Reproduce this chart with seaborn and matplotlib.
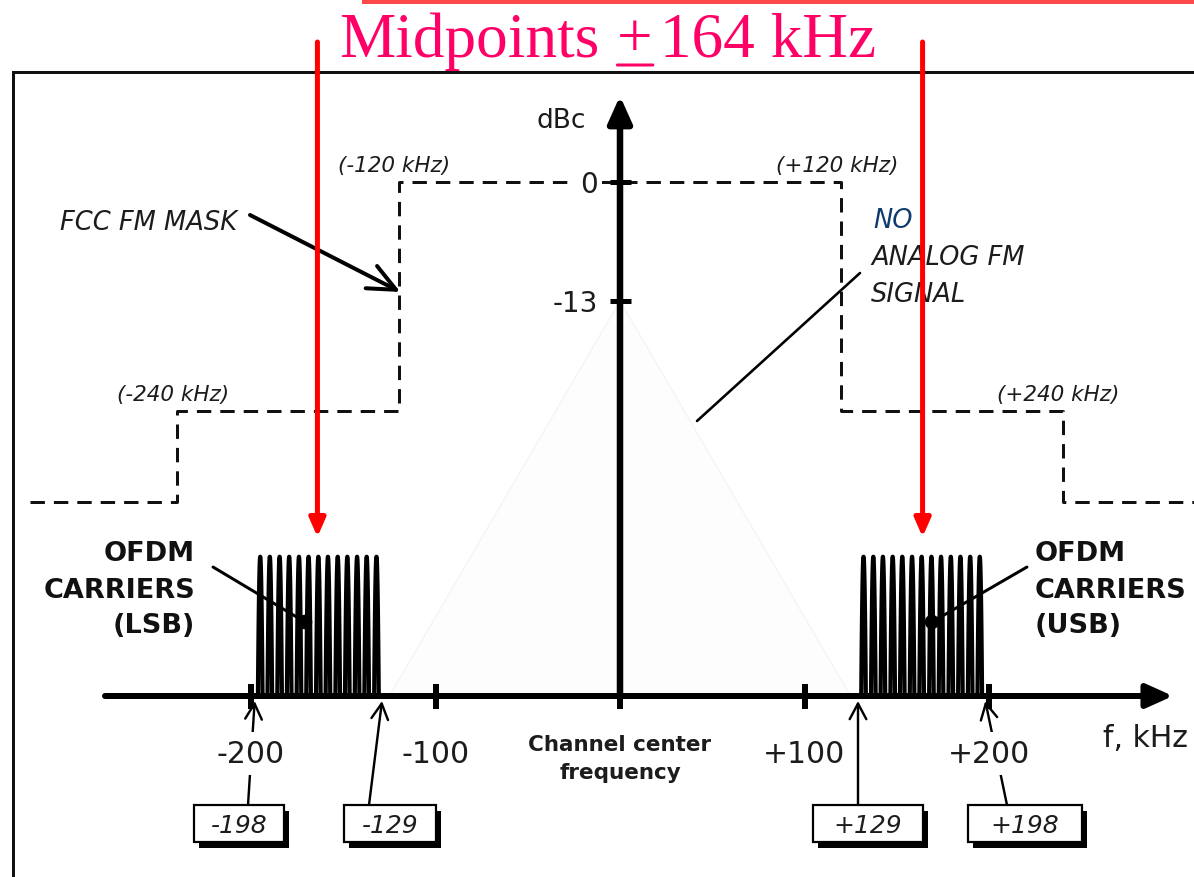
import numpy as np
import pandas as pd
import matplotlib
matplotlib.use("Agg")
import matplotlib.pyplot as plt
from matplotlib.patches import Rectangle, Polygon
import seaborn as sns

# ---------------- spectrum data ----------------
MASK_EDGES_KHZ = [120, 240]            # FCC FM mask breakpoints (each side)
MASK_LEVELS_DBC = [0, -25, -35]        # inside / between / outside the breakpoints
MASK_OUTER_KHZ = 320

LSB_CARRIERS_KHZ = [-195.0, -189.8, -184.5, -179.3, -174.0, -168.8, -163.5,
                    -158.3, -153.0, -147.8, -142.5, -137.3, -132.0]
USB_CARRIERS_KHZ = [132.0, 137.3, 142.5, 147.8, 153.0, 158.3, 163.5,
                    168.8, 174.0, 179.3, 184.5, 189.8, 195.0]
CARRIER_PEAK_DBC = -41
CARRIER_HALF_WIDTH_KHZ = 1.25

BAND_EDGES_KHZ = [-198, -129, 129, 198]
BAND_EDGE_LABELS = ["-198", "-129", "+129", "+198"]
MIDPOINT_KHZ = 164

X_TICKS_KHZ = [-200, -100, 0, 100, 200]
X_TICK_LABELS = ["-200", "-100", "", "+100", "+200"]
Y_TICKS_DBC = [0, -13]
Y_TICK_LABELS = ["0", "-13"]

ANALOG_PEAK_DBC = -13
ANALOG_EDGE_KHZ = 125

MASK_EDGE_LABELS = ["(-240 kHz)", "(-120 kHz)", "(+120 kHz)", "(+240 kHz)"]

# ---------------- canvas geometry ----------------
W, H = 1194, 878
X0_PX, PX_PER_KHZ = 620, 1.845      # pixel column of 0 kHz, pixels per kHz
Y0_PX, PX_PER_DB = 183, 9.14        # pixel row of 0 dBc, pixels per dB


def fx(px):
    return (px - X0_PX) / PX_PER_KHZ


def fy(py):
    return (Y0_PX - py) / PX_PER_DB


def pt(px):
    return px * 0.72


BASE = fy(697)          # level of the frequency axis
INK = "#1c1c1c"

sns.set_theme(style="white")
plt.rcParams["font.family"] = ["DejaVu Sans"]

fig = plt.figure(figsize=(W / 100, H / 100), dpi=100)
ax = fig.add_axes([0, 0, 1, 1])
ax.set_xlim(fx(0), fx(W))
ax.set_ylim(fy(H), fy(0))
ax.axis("off")

# top accent bar and frame
ax.add_patch(Rectangle((fx(362), fy(5)), fx(W + 2) - fx(362), 6 / PX_PER_DB,
                       color="#ff4848", lw=0, zorder=1))
ax.plot([fx(13), fx(13), fx(W + 5)], [fy(H + 5), fy(72.5), fy(72.5)],
        color="#111111", lw=pt(3), solid_joinstyle="miter", zorder=1)

# faint analog FM envelope
ax.add_patch(Polygon([(-ANALOG_EDGE_KHZ, BASE), (0, ANALOG_PEAK_DBC),
                      (ANALOG_EDGE_KHZ, BASE)], closed=True,
                     fc="#fdfdfd", ec="#f3f3f3", lw=0.8, zorder=1))

# FCC FM mask (dashed step line)
e1, e2 = MASK_EDGES_KHZ
l0, l1, l2 = MASK_LEVELS_DBC
mask_f = [-MASK_OUTER_KHZ, -e2, -e2, -e1, -e1, e1, e1, e2, e2, MASK_OUTER_KHZ]
mask_db = [l2, l2, l1, l1, l0, l0, l1, l1, l2, l2]
sns.lineplot(x=mask_f, y=mask_db, sort=False, estimator=None, color="#111111",
             linewidth=pt(3), linestyle=(0, (4.8, 3.0)), ax=ax, zorder=2)

# mask breakpoint labels
edge_vals = [-e2, -e1, e1, e2]
edge_lvls = [l1, l0, l0, l1]
for v, lv, lab in zip(edge_vals, edge_lvls, MASK_EDGE_LABELS):
    ax.text(v - 2.5, lv + 1.2, lab, ha="center", va="baseline", fontsize=15.5,
            style="italic", color=INK, zorder=3)

# OFDM sub-carriers
u = np.linspace(-1, 1, 61)
frames = []
for side, centers in (("LSB", LSB_CARRIERS_KHZ), ("USB", USB_CARRIERS_KHZ)):
    for i, c in enumerate(centers):
        frames.append(pd.DataFrame({
            "carrier": f"{side}{i}",
            "f": c + CARRIER_HALF_WIDTH_KHZ * u,
            "dbc": BASE + (CARRIER_PEAK_DBC - BASE) * (1 - u ** 2),
        }))
carriers = pd.concat(frames, ignore_index=True)
sns.lineplot(data=carriers, x="f", y="dbc", units="carrier", estimator=None,
             sort=False, color="black", linewidth=pt(4.2), ax=ax, zorder=3)

# frequency and level axes
ax.annotate("", xy=(fx(1173), BASE), xytext=(fx(105), BASE),
            arrowprops=dict(arrowstyle="-|>,head_length=0.8,head_width=0.36",
                            lw=pt(6), color="black", shrinkA=0, shrinkB=0,
                            mutation_scale=20), zorder=5)
ax.annotate("", xy=(0, fy(97)), xytext=(0, BASE),
            arrowprops=dict(arrowstyle="-|>,head_length=0.8,head_width=0.36",
                            lw=pt(6.5), color="black", shrinkA=0, shrinkB=0,
                            mutation_scale=20), zorder=5)
ax.vlines(X_TICKS_KHZ, fy(710), fy(685), color="black", lw=pt(6), zorder=5)
ax.hlines(Y_TICKS_DBC, fx(610), fx(631), color="black", lw=pt(5), zorder=5)

for v, lab in zip(X_TICKS_KHZ, X_TICK_LABELS):
    if lab:
        ax.text(v, fy(763), lab, ha="center", va="baseline", fontsize=21.5,
                color=INK, zorder=7,
                bbox=dict(fc="white", ec="none", pad=5))
for v, lab in zip(Y_TICKS_DBC, Y_TICK_LABELS):
    ax.text(fx(598), v - 1.1, lab, ha="right", va="baseline", fontsize=20,
            color=INK, zorder=4, bbox=dict(fc="white", ec="none", pad=3))
ax.text(fx(561), fy(128), "dBc", ha="center", va="baseline", fontsize=19,
        color=INK)
ax.text(fx(1103), fy(747), "f, kHz", ha="left", va="baseline", fontsize=21.5,
        color=INK)
ax.text(0, fy(751), "Channel center", ha="center", va="baseline",
        fontsize=15.5, fontweight="bold", color=INK)
ax.text(0, fy(779), "frequency", ha="center", va="baseline",
        fontsize=15.5, fontweight="bold", color=INK)

# band-edge callout boxes with leader arrows
box_cx = [239, 390, 868, 1025]
box_w = [90, 92, 110, 114]
lead_x = [248, 369, 858, 1007]
box_top, box_bot = 806, 843
for v, lab, cx, bw, lx in zip(BAND_EDGES_KHZ, BAND_EDGE_LABELS, box_cx, box_w, lead_x):
    x0 = cx - bw / 2
    ax.add_patch(Rectangle((fx(x0 + 5), fy(box_bot + 6)), bw / PX_PER_KHZ,
                           (box_bot - box_top) / PX_PER_DB,
                           fc="black", ec="black", lw=0, zorder=5))
    ax.add_patch(Rectangle((fx(x0), fy(box_bot)), bw / PX_PER_KHZ,
                           (box_bot - box_top) / PX_PER_DB,
                           fc="white", ec="black", lw=pt(2.2), zorder=5))
    ax.text(fx(cx), fy(833), lab, ha="center", va="baseline", fontsize=18,
            style="italic", color=INK, zorder=6)
    ax.annotate("", xy=(v, fy(702)), xytext=(fx(lx), fy(box_top)),
                arrowprops=dict(arrowstyle="->,head_length=0.75,head_width=0.4",
                                lw=pt(2.4), color="black", shrinkA=0, shrinkB=0,
                                mutation_scale=15), zorder=6)

# OFDM carrier call-outs
ofdm_kw = dict(fontsize=19.5, fontweight="bold", color="#111111", va="baseline")
for txt, yb in (("OFDM", 561), ("CARRIERS", 598), ("(LSB)", 633)):
    ax.text(fx(195), fy(yb), txt, ha="right", **ofdm_kw)
for txt, yb in (("OFDM", 561), ("CARRIERS", 598), ("(USB)", 633)):
    ax.text(fx(1035), fy(yb), txt, ha="left", **ofdm_kw)
ax.plot([fx(213), fx(305)], [fy(568), fy(623)], color="black", lw=pt(3), zorder=6)
ax.plot([fx(1027), fx(932)], [fy(568), fy(623)], color="black", lw=pt(3), zorder=6)
sns.scatterplot(x=[fx(305), fx(932)], y=[fy(623), fy(623)], s=110,
                color="black", edgecolor="none", ax=ax, zorder=7)

# FCC mask call-out
ax.text(fx(60), fy(230), "FCC FM MASK", ha="left", va="baseline",
        fontsize=18.5, style="italic", color=INK)
ax.annotate("", xy=(-e1 + 1, fy(293)), xytext=(fx(250), fy(216)),
            arrowprops=dict(arrowstyle="->,head_length=1.0,head_width=0.45",
                            lw=pt(4), color="black", shrinkA=0, shrinkB=0,
                            mutation_scale=20), zorder=4)

# "no analog FM signal" call-out
ax.text(fx(873), fy(228), "NO", ha="left", va="baseline", fontsize=18.5,
        style="italic", color="#0f3c6e")
ax.text(fx(871), fy(265), "ANALOG FM", ha="left", va="baseline",
        fontsize=18.5, style="italic", color=INK)
ax.text(fx(871), fy(302), "SIGNAL", ha="left", va="baseline",
        fontsize=18.5, style="italic", color=INK)
ax.plot([fx(697), fx(860)], [fy(422), fy(274)], color="black", lw=pt(2.6), zorder=4)

# midpoint markers
for m in (-MIDPOINT_KHZ, MIDPOINT_KHZ):
    ax.annotate("", xy=(m, fy(538)), xytext=(m, fy(43)),
                arrowprops=dict(arrowstyle="-|>,head_length=0.55,head_width=0.24",
                                lw=pt(5), color="#ff0000", shrinkA=0, shrinkB=0,
                                mutation_scale=20), zorder=9)

# title with underlined plus sign
title_kw = dict(fontsize=45.5, color="#ff0066", family=["Liberation Serif"],
                va="baseline", ha="left", zorder=9)
t1 = ax.text(fx(339), fy(57), "Midpoints", **title_kw)
t2 = ax.annotate("+", xy=(1, fy(57)), xycoords=(t1, "data"),
                 xytext=(13, 0), textcoords="offset points", **title_kw)
t3 = ax.annotate("164 kHz", xy=(1, fy(57)), xycoords=(t2, "data"),
                 xytext=(5, 0), textcoords="offset points", **title_kw)
ax.annotate("", xy=(1.0, fy(66)), xycoords=(t2, "data"),
            xytext=(0.0, fy(66)), textcoords=(t2, "data"),
            arrowprops=dict(arrowstyle="-", color="#ff0066", lw=pt(3),
                            shrinkA=0, shrinkB=0), zorder=9)

fig.savefig("out.png", dpi=100, facecolor="white")
